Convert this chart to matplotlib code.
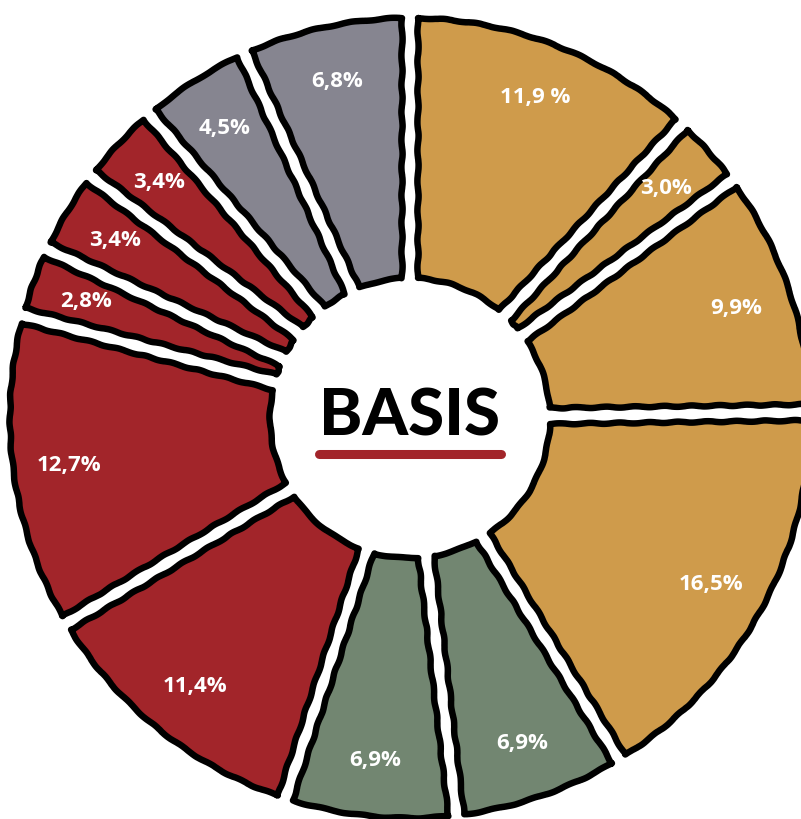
import numpy as np
import matplotlib
matplotlib.use("Agg")
import matplotlib.pyplot as plt
from matplotlib.patches import Polygon

# ---- data ----
labels = ["11,9 %", "3,0%", "9,9%", "16,5%", "6,9%", "6,9%", "11,4%",
          "12,7%", "2,8%", "3,4%", "3,4%", "4,5%", "6,8%"]
values = [11.9, 3.0, 9.9, 16.5, 6.9, 6.9, 11.4, 12.7, 2.8, 3.4, 3.4, 4.5, 6.8]
groups = ["gold", "gold", "gold", "gold", "green", "green", "red",
          "red", "red", "red", "red", "gray", "gray"]
center_title = "BASIS"

palette = {"gold": "#CF9B4B", "green": "#728671", "red": "#A2252A", "gray": "#868590"}

W, H = 801, 819
fig = plt.figure(figsize=(W / 100, H / 100), dpi=100)
ax = fig.add_axes([0, 0, 1, 1])
ax.set_xlim(0, W)
ax.set_ylim(H, 0)
ax.axis("off")

cx, cy = 410, 418
R, r0 = 400, 140
gap = 16
lw_px = 6.5

vals = np.array(values, dtype=float)
angles = vals / vals.sum() * 360.0
start = 90.0

def pt(r, a):
    t = np.deg2rad(a)
    return cx + r * np.cos(t), cy - r * np.sin(t)

do = np.rad2deg(np.arcsin(gap / 2 / R))
di = np.rad2deg(np.arcsin(gap / 2 / r0))

a1 = start
for lab, span, grp in zip(labels, angles, groups):
    a2 = a1 - span
    outer = np.linspace(a1 - do, a2 + do, 60)
    inner = np.linspace(a2 + di, a1 - di, 30)
    pts = [pt(R, a) for a in outer] + [pt(r0, a) for a in inner]
    poly = Polygon(pts, closed=True, facecolor=palette[grp], edgecolor="black",
                   linewidth=lw_px * 72 / 100, joinstyle="round")
    poly.set_sketch_params(scale=0.6, length=30, randomness=1.5)
    ax.add_patch(poly)
    mid = (a1 + a2) / 2
    lx, ly = pt(R * 0.86, mid)
    ax.text(lx, ly, lab, ha="center", va="center", color="white",
            fontsize=16, fontweight="bold", family=["Open Sans", "DejaVu Sans"])
    a1 = a2

ax.text(cx, cy - 1, center_title, ha="center", va="center", color="black",
        fontsize=47, fontweight="black", family=["Lato", "DejaVu Sans"])
ax.plot([cx - 91, cx + 91], [cy + 36, cy + 36], color="#A2252A",
        linewidth=6.5, solid_capstyle="round")

fig.savefig("out.png", dpi=100, facecolor="white")
